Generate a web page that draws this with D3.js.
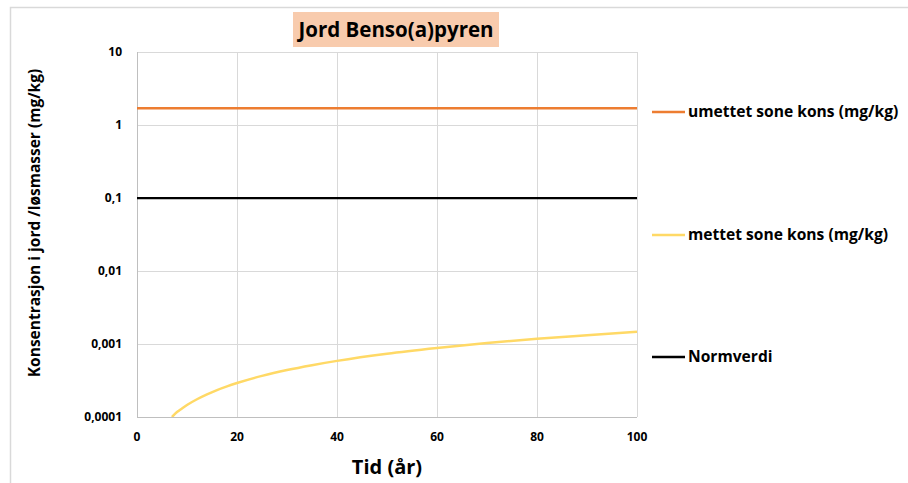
<!DOCTYPE html>
<html>
<head>
<meta charset="utf-8">
<script src="https://cdn.jsdelivr.net/npm/d3@7"></script>
<style>
  body { margin: 0; background: #fff; }
  text { font-family: "Open Sans", sans-serif; font-weight: bold; fill: #000; }
</style>
</head>
<body>
<div id="chart"></div>
<script>
// data
var years = [0, 100];
var umettetKons = [1.7, 1.7];
var normverdi = [0.1, 0.1];
var mettetYears = [7, 8, 9, 10, 12, 14, 16, 18, 20, 25, 30, 35, 40, 50, 60, 70, 80, 90, 100];
var mettetKons = [0.0001, 0.000117, 0.000131, 0.000146, 0.000175, 0.000204, 0.000234, 0.000263,
                  0.000292, 0.000366, 0.00044, 0.000513, 0.000587, 0.000735, 0.00088, 0.00103,
                  0.00118, 0.00132, 0.00147];
var xTicks = [0, 20, 40, 60, 80, 100];
var yTicks = [0.0001, 0.001, 0.01, 0.1, 1, 10];
var yTickLabels = ["0,0001", "0,001", "0,01", "0,1", "1", "10"];
var seriesNames = ["umettet sone kons (mg/kg)", "mettet sone kons (mg/kg)", "Normverdi"];
var seriesColors = ["#ED7D31", "#FFD966", "#000000"];

var W = 908, H = 483;
var margin = {top: 52, right: 271, bottom: 66, left: 137},
    width = W - margin.left - margin.right,
    height = H - margin.top - margin.bottom;

var svg = d3.select("#chart").append("svg")
    .attr("width", W)
    .attr("height", H);

// outer frame
svg.append("rect")
    .attr("x", 10.5).attr("y", 7.5)
    .attr("width", W).attr("height", H)
    .attr("fill", "none")
    .attr("stroke", "#d9d9d9")
    .attr("stroke-width", 1.5);

var g = svg.append("g")
    .attr("transform", "translate(" + margin.left + "," + margin.top + ")");

var x = d3.scaleLinear().domain([0, 100]).range([0, width]);
var y = d3.scaleLog().domain([0.0001, 10]).range([height, 0]);

// gridlines
g.append("g").selectAll("line")
  .data(yTicks.slice(1))
  .enter().append("line")
    .attr("x1", 0).attr("x2", width)
    .attr("y1", function(d) { return Math.round(y(d)) + 0.5; })
    .attr("y2", function(d) { return Math.round(y(d)) + 0.5; })
    .attr("stroke", "#d9d9d9").attr("stroke-width", 1);
g.append("g").selectAll("line")
  .data(xTicks.slice(1))
  .enter().append("line")
    .attr("x1", function(d) { return Math.round(x(d)) + 0.5; })
    .attr("x2", function(d) { return Math.round(x(d)) + 0.5; })
    .attr("y1", 0).attr("y2", height)
    .attr("stroke", "#d9d9d9").attr("stroke-width", 1);

// axis lines
g.append("line").attr("x1", 0.5).attr("x2", 0.5).attr("y1", 0).attr("y2", height)
    .attr("stroke", "#bfbfbf");
g.append("line").attr("x1", 0).attr("x2", width).attr("y1", height + 0.5).attr("y2", height + 0.5)
    .attr("stroke", "#bfbfbf");

// tick labels
g.append("g").selectAll("text")
  .data(yTicks)
  .enter().append("text")
    .attr("x", -15)
    .attr("y", function(d) { return y(d); })
    .attr("dy", "0.35em")
    .attr("text-anchor", "end")
    .style("font-size", "12px")
    .text(function(d, i) { return yTickLabels[i]; });
g.append("g").selectAll("text")
  .data(xTicks)
  .enter().append("text")
    .attr("x", function(d) { return x(d); })
    .attr("y", height + 20)
    .attr("dy", "0.35em")
    .attr("text-anchor", "middle")
    .style("font-size", "12px")
    .text(function(d) { return d; });

// clip
svg.append("clipPath").attr("id", "clip")
  .append("rect").attr("x", 0).attr("y", 0).attr("width", width).attr("height", height);

var line = d3.line()
    .x(function(d) { return x(d[0]); })
    .y(function(d) { return y(d[1]); });

var series = [
  d3.zip(years, umettetKons),
  d3.zip(mettetYears, mettetKons),
  d3.zip(years, normverdi)
];

var lines = g.append("g").attr("clip-path", "url(#clip)");
lines.append("path").datum(series[1])
    .attr("fill", "none").attr("stroke", seriesColors[1]).attr("stroke-width", 2.5)
    .attr("d", line.curve(d3.curveMonotoneX));
lines.append("path").datum(series[0])
    .attr("fill", "none").attr("stroke", seriesColors[0]).attr("stroke-width", 2.5)
    .attr("d", line.curve(d3.curveLinear));
lines.append("path").datum(series[2])
    .attr("fill", "none").attr("stroke", seriesColors[2]).attr("stroke-width", 2.25)
    .attr("d", line.curve(d3.curveLinear));

// legend
var legendY = [112, 235, 357];
var legend = svg.append("g").selectAll("g")
  .data(seriesNames)
  .enter().append("g")
    .attr("transform", function(d, i) { return "translate(652," + legendY[i] + ")"; });
legend.append("line")
    .attr("x1", 0).attr("x2", 33).attr("y1", 0).attr("y2", 0)
    .attr("stroke", function(d, i) { return seriesColors[i]; })
    .attr("stroke-width", 2.5);
legend.append("text")
    .attr("x", 36).attr("y", 0).attr("dy", "0.35em")
    .style("font-size", "15.6px")
    .text(function(d) { return d; });

// title
svg.append("rect")
    .attr("x", 293).attr("y", 12)
    .attr("width", 206).attr("height", 35)
    .attr("fill", "#F8CBAD");
svg.append("text")
    .attr("x", 396).attr("y", 30).attr("dy", "0.35em")
    .attr("text-anchor", "middle")
    .style("font-size", "20.5px")
    .text("Jord Benso(a)pyren");

// axis titles
svg.append("text")
    .attr("x", margin.left + width / 2).attr("y", 467).attr("dy", "0.35em")
    .attr("text-anchor", "middle")
    .style("font-size", "20px")
    .text("Tid (år)");
svg.append("text")
    .attr("transform", "translate(35," + 223 + ")rotate(-90)")
    .attr("dy", "0.35em")
    .attr("text-anchor", "middle")
    .style("font-size", "15.5px")
    .text("Konsentrasjon i jord /løsmasser (mg/kg)");
</script>
</body>
</html>
